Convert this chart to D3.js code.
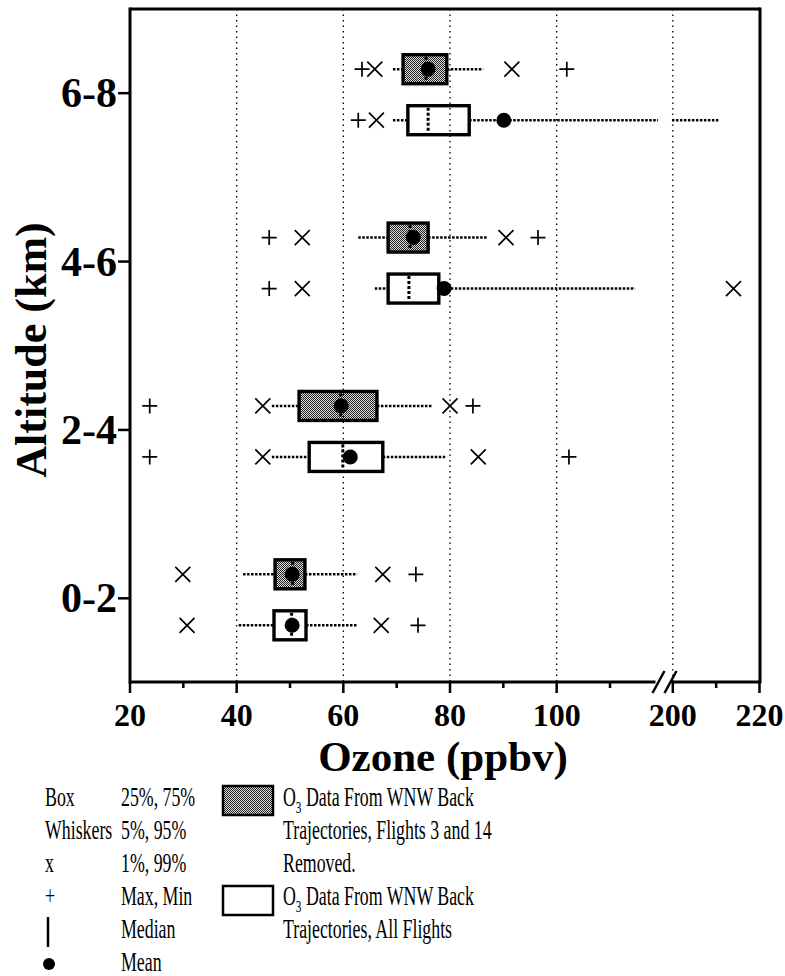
<!DOCTYPE html>
<html>
<head>
<meta charset="utf-8">
<script src="https://cdn.jsdelivr.net/npm/d3@7"></script>
<style>
  body { margin: 0; background: #fff; }
  svg { display: block; }
  text { font-family: "Liberation Serif", "Times New Roman", serif; fill: #000; }
</style>
</head>
<body>
<div id="chart"></div>
<script>
// altitude bands (km) and their mid points
const bands = ["0-2", "2-4", "4-6", "6-8"];
const bandMid = [1, 3, 5, 7];

// O3 from WNW back trajectories, flights 3 and 14 removed (shaded boxes)
const remMin = [null, 23.7, 46.1, 63.5];
const remP1 = [29.9, 44.9, 52.3, 65.9];
const remP5 = [41.2, 46.6, 62.8, 69.3];
const remP25 = [47.2, 51.7, 68.4, 71.2];
const remMedian = [50.5, 59.5, 72.5, 75.5];
const remMean = [50.4, 59.6, 73.1, 75.9];
const remP75 = [52.8, 66.3, 75.9, 79.4];
const remP95 = [62.6, 76.6, 86.9, 86.2];
const remP99 = [67.4, 80.0, 90.5, 91.6];
const remMax = [73.6, 84.3, 96.5, 101.9];

// O3 from WNW back trajectories, all flights (white boxes)
const allMin = [null, 23.7, 46.1, 62.8];
const allP1 = [30.7, 44.9, 52.3, 66.2];
const allP5 = [40.4, 46.6, 65.9, 69.3];
const allP25 = [47.0, 53.6, 68.4, 72.1];
const allMedian = [50.3, 59.9, 72.3, 75.9];
const allMean = [50.4, 61.3, 78.9, 90.1];
const allP75 = [53.0, 67.4, 77.9, 83.6];
const allP95 = [62.6, 79.1, 114.7, 210.5];
const allP99 = [67.1, 85.3, 214.0, null];
const allMax = [74.0, 102.3, null, null];

const xMajor = [20, 40, 60, 80, 100, 200, 220];
const xMinor = [30, 50, 70, 90, 110, 210];
const xGrid = [40, 60, 80, 100, 200];

const legendKeys = ["Box", "Whiskers", "x", "+", "", ""];
const legendVals = ["25%, 75%", "5%, 95%", "1%, 99%", "Max, Min", "Median", "Mean"];

const W = 785, H = 976;
const svg = d3.select("#chart").append("svg")
    .attr("width", W).attr("height", H);

const defs = svg.append("defs");
const pat = defs.append("pattern")
    .attr("id", "dither").attr("patternUnits", "userSpaceOnUse")
    .attr("width", 2).attr("height", 2);
pat.append("rect").attr("width", 2).attr("height", 2).attr("fill", "#ddd");
pat.append("rect").attr("width", 1).attr("height", 1).attr("fill", "#222");
pat.append("rect").attr("x", 1).attr("y", 1).attr("width", 1).attr("height", 1).attr("fill", "#222");

// broken x axis: linear 20..~119, gap, ~198..220
const breakLo = 119, breakHi = 198.2;
const x = d3.scaleLinear()
    .domain([20, breakLo, breakHi, 220])
    .range([130, 658, 665, 759.5]);
const y = d3.scaleLinear().domain([0, 8]).range([682.5, 9]);

const pL = 130, pR = 760, pT = 9, pB = 682;
const rowShift = { removed: -24, all: 27 };
const boxH = 29;

function rowsFor(kind, i) {
  const src = kind == "removed"
    ? [remMin, remP1, remP5, remP25, remMedian, remMean, remP75, remP95, remP99, remMax]
    : [allMin, allP1, allP5, allP25, allMedian, allMean, allP75, allP95, allP99, allMax];
  return {
    kind: kind, band: bands[i], alt: bandMid[i],
    min: src[0][i], p1: src[1][i], p5: src[2][i], p25: src[3][i], med: src[4][i],
    mean: src[5][i], p75: src[6][i], p95: src[7][i], p99: src[8][i], max: src[9][i]
  };
}
const rows = [];
bands.forEach((b, i) => {
  rows.push(rowsFor("removed", i));
  rows.push(rowsFor("all", i));
});
const rowY = d => y(d.alt) + rowShift[d.kind];

// whiskers (split at the axis break)
function whiskerSegs(a, b) {
  if (b <= breakLo || a >= breakHi) return [[a, b]];
  return [[a, 119.6], [199.8, b]];
}
const wg = svg.append("g");
rows.forEach(d => {
  const segs = [[d.p5, d.p25]].concat(whiskerSegs(d.p75, d.p95));
  segs.forEach(s => {
    wg.append("line")
      .attr("x1", x(s[0])).attr("x2", x(s[1]))
      .attr("y1", rowY(d)).attr("y2", rowY(d))
      .attr("stroke", "#000").attr("stroke-width", 2.6)
      .attr("stroke-dasharray", "2.5,1.5");
  });
});

// boxes
svg.append("g").selectAll("rect")
  .data(rows).enter().append("rect")
    .attr("x", d => x(d.p25))
    .attr("y", d => rowY(d) - boxH / 2)
    .attr("width", d => x(d.p75) - x(d.p25))
    .attr("height", boxH)
    .attr("fill", d => d.kind == "removed" ? "url(#dither)" : "#fff")
    .attr("stroke", "#000").attr("stroke-width", 3.4);

// medians
svg.append("g").selectAll("line")
  .data(rows).enter().append("line")
    .attr("x1", d => x(d.med)).attr("x2", d => x(d.med))
    .attr("y1", d => rowY(d) - boxH / 2 + 2).attr("y2", d => rowY(d) + boxH / 2 - 2)
    .attr("stroke", "#000").attr("stroke-width", 3)
    .attr("stroke-dasharray", "3,2");

// dotted grid
svg.append("g").selectAll("line")
  .data(xGrid).enter().append("line")
    .attr("x1", d => x(d)).attr("x2", d => x(d))
    .attr("y1", pT).attr("y2", pB)
    .attr("stroke", "#000").attr("stroke-width", 1.3)
    .attr("stroke-dasharray", "1.5,4");

// means
svg.append("g").selectAll("circle")
  .data(rows).enter().append("circle")
    .attr("cx", d => x(d.mean)).attr("cy", rowY)
    .attr("r", 7.5).attr("fill", "#000");

// 1%/99% crosses and min/max plus signs
const mk = svg.append("g").attr("stroke", "#000").attr("stroke-width", 1.7).attr("fill", "none");
rows.forEach(d => {
  [d.p1, d.p99].filter(v => v != null).forEach(v => {
    const cx = x(v), cy = rowY(d), s = 7.5;
    mk.append("path").attr("d", `M${cx - s},${cy - s}L${cx + s},${cy + s}M${cx - s},${cy + s}L${cx + s},${cy - s}`);
  });
  [d.min, d.max].filter(v => v != null).forEach(v => {
    const cx = x(v), cy = rowY(d), s = 7.5;
    mk.append("path").attr("d", `M${cx - s},${cy}L${cx + s},${cy}M${cx},${cy - s}L${cx},${cy + s}`);
  });
});

// frame
const fr = svg.append("g").attr("stroke", "#000").attr("stroke-width", 3).attr("fill", "none");
fr.append("line").attr("x1", pL).attr("x2", pL).attr("y1", pT - 1.5).attr("y2", pB + 1.5);
fr.append("line").attr("x1", pR).attr("x2", pR).attr("y1", pT - 1.5).attr("y2", pB + 1.5);
fr.append("line").attr("x1", pL).attr("x2", pR).attr("y1", pT).attr("y2", pT);
const bx = (x(breakLo) + x(breakHi)) / 2;
fr.append("line").attr("x1", pL).attr("x2", bx - 6).attr("y1", pB).attr("y2", pB);
fr.append("line").attr("x1", bx + 10).attr("x2", pR).attr("y1", pB).attr("y2", pB);
[bx - 3, bx + 9].forEach(c => {
  fr.append("line").attr("x1", c - 6).attr("x2", c + 6)
    .attr("y1", pB + 11).attr("y2", pB - 11).attr("stroke-width", 2.5);
});

// x ticks
fr.selectAll(".maj").data(xMajor).enter().append("line")
  .attr("x1", d => x(d)).attr("x2", d => x(d))
  .attr("y1", pB).attr("y2", pB + 11).attr("stroke-width", 2.5);
fr.selectAll(".min").data(xMinor).enter().append("line")
  .attr("x1", d => x(d)).attr("x2", d => x(d))
  .attr("y1", pB).attr("y2", pB + 6).attr("stroke-width", 2.5);
svg.append("g").selectAll("text")
  .data(xMajor).enter().append("text")
    .attr("x", d => x(d)).attr("y", 726)
    .attr("text-anchor", "middle")
    .style("font-size", "32px").style("font-weight", "bold")
    .text(d => d);

// y ticks
fr.selectAll(".yt").data(bandMid).enter().append("line")
  .attr("x1", pL - 12).attr("x2", pL)
  .attr("y1", d => y(d)).attr("y2", d => y(d)).attr("stroke-width", 2.5);
svg.append("g").selectAll("text")
  .data(bands).enter().append("text")
    .attr("x", 117).attr("y", (d, i) => y(bandMid[i]) + 14)
    .attr("text-anchor", "end")
    .style("font-size", "42px").style("font-weight", "bold")
    .text(d => d);

// axis titles
svg.append("text")
  .attr("transform", "translate(46,350) rotate(-90)")
  .attr("text-anchor", "middle")
  .style("font-size", "44px").style("font-weight", "bold")
  .text("Altitude (km)");
svg.append("text")
  .attr("x", 443).attr("y", 771)
  .attr("text-anchor", "middle")
  .style("font-size", "43px").style("font-weight", "bold")
  .text("Ozone (ppbv)");

// legend (text is condensed horizontally as in the original)
const lg = svg.append("g");
const rowBase = i => 806 + i * 33;
function ltext(tx, ty, str) {
  return lg.append("text")
    .attr("transform", `translate(${tx},${ty}) scale(0.66,1)`)
    .style("font-size", "27px")
    .text(str);
}
legendKeys.forEach((k, i) => { if (k) ltext(45, rowBase(i), k); });
legendVals.forEach((v, i) => ltext(121, rowBase(i), v));
lg.append("line").attr("x1", 48).attr("x2", 48)
  .attr("y1", rowBase(4) - 21).attr("y2", rowBase(4) + 9)
  .attr("stroke", "#000").attr("stroke-width", 2.5);
lg.append("circle").attr("cx", 49).attr("cy", rowBase(5) - 7).attr("r", 6).attr("fill", "#000");

lg.append("rect").attr("x", 223).attr("y", 786).attr("width", 50).attr("height", 29)
  .attr("fill", "url(#dither)").attr("stroke", "#000").attr("stroke-width", 2.5);
lg.append("rect").attr("x", 223).attr("y", 886).attr("width", 50).attr("height", 29)
  .attr("fill", "#fff").attr("stroke", "#000").attr("stroke-width", 2.5);

function o3line(ty) {
  const t = ltext(283, ty, "O");
  t.append("tspan").attr("dy", 7).style("font-size", "17px").text("3");
  t.append("tspan").attr("dy", -7).text(" Data From WNW Back");
}
o3line(rowBase(0));
ltext(283, rowBase(1), "Trajectories, Flights 3 and 14");
ltext(283, rowBase(2), "Removed.");
o3line(rowBase(3));
ltext(283, rowBase(4), "Trajectories, All Flights");
</script>
</body>
</html>
